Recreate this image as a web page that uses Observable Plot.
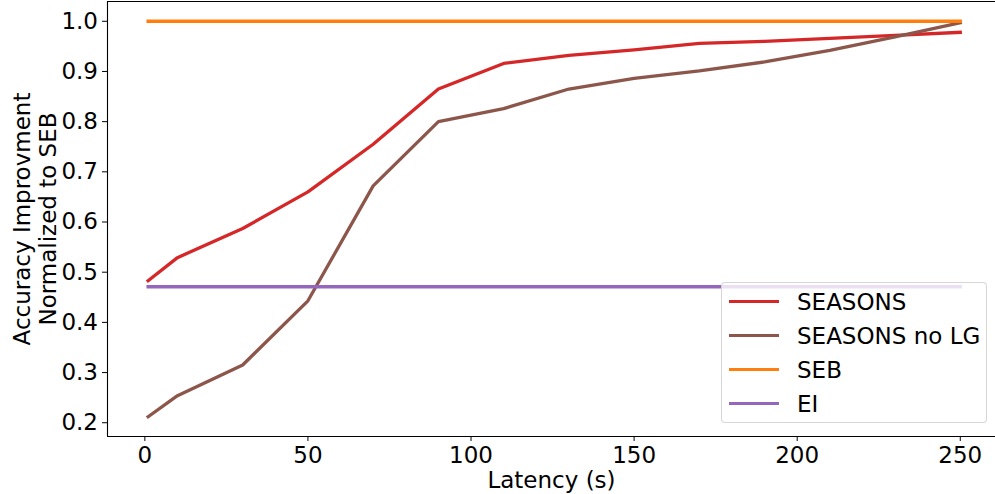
<!DOCTYPE html>
<html>
<head>
<meta charset="utf-8">
<script src="https://cdn.jsdelivr.net/npm/d3@7"></script>
<script src="https://cdn.jsdelivr.net/npm/@observablehq/plot@0.6"></script>
<style>
  html, body { margin: 0; padding: 0; background: #fff; }
  #wrap { position: relative; width: 995px; height: 494px; font-family: "DejaVu Sans", sans-serif; }
  #legend {
    position: absolute; left: 721px; top: 282px; width: 266px; height: 141px;
    background: rgba(255,255,255,0.8); border: 1px solid rgba(204,204,204,0.8); border-radius: 4px;
    box-sizing: border-box;
  }
  .row { position: absolute; left: 0; height: 34px; line-height: 34px; font-size: 23px; color: #000; white-space: nowrap; }
  .sw { position: absolute; left: 7px; top: 15.5px; width: 50px; height: 3.3px; }
  .lab { position: absolute; left: 75px; top: 0; }
</style>
</head>
<body>
<div id="wrap"></div>
<script>
// ---- data ----
const latency = [1, 10, 30, 50, 70, 90, 110, 130, 150, 170, 190, 210, 230, 250];
const seasons = [0.483, 0.529, 0.587, 0.660, 0.755, 0.865, 0.916, 0.932, 0.943, 0.956, 0.960, 0.966, 0.972, 0.978];
const seasonsNoLG = [0.212, 0.254, 0.315, 0.443, 0.672, 0.800, 0.826, 0.865, 0.886, 0.901, 0.919, 0.942, 0.969, 0.997];
const baselineLatency = [1, 250];
const seb = [1.0, 1.0];
const ei = [0.471, 0.471];

const seriesNames = ["SEASONS", "SEASONS no LG", "SEB", "EI"];
const seriesColors = ["#d62728", "#8c564b", "#ff7f0e", "#9467bd"];

const xTicks = [0, 50, 100, 150, 200, 250];
const yTicks = [0.2, 0.3, 0.4, 0.5, 0.6, 0.7, 0.8, 0.9, 1.0];
const xLabel = "Latency (s)";
const yLabel = "Accuracy Improvment\nNormalized to SEB";

// ---- tables ----
const toRows = (xs, ys) => xs.map((x, i) => ({x, y: ys[i]}));
const tables = [
  toRows(latency, seasons),
  toRows(latency, seasonsNoLG),
  toRows(baselineLatency, seb),
  toRows(baselineLatency, ei)
];

const xDomain = [-11.45, 260.8];
const yDomain = [0.1726, 1.0394];

const lineMarks = tables.map((t, i) => Plot.line(t, {
  x: "x", y: "y", stroke: seriesColors[i], strokeWidth: 3.3,
  strokeLinejoin: "round", strokeLinecap: "square"
}));

const chart = Plot.plot({
  width: 995,
  height: 494,
  marginLeft: 107,
  marginRight: 0,
  marginTop: 1,
  marginBottom: 58,
  style: {fontFamily: "DejaVu Sans, sans-serif", fontSize: "23px", color: "#000", background: "#fff", overflow: "visible"},
  x: {domain: xDomain, label: null},
  y: {domain: yDomain, label: null},
  marks: [
    ...lineMarks,
    // spines (left, top, bottom)
    Plot.ruleX([xDomain[0]], {stroke: "#000", strokeWidth: 1.1}),
    Plot.ruleY([yDomain[1]], {stroke: "#000", strokeWidth: 1.1}),
    Plot.ruleY([yDomain[0]], {stroke: "#000", strokeWidth: 1.1}),
    Plot.axisX({ticks: xTicks, tickSize: 5, tickPadding: 5, tickFormat: d3.format("d"), fontSize: 23, label: null}),
    Plot.axisY({ticks: yTicks, tickSize: 5, tickPadding: 4.5, tickFormat: d3.format(".1f"), fontSize: 23, label: null}),
    Plot.text([xLabel], {frameAnchor: "bottom", text: d => d, textAnchor: "middle", lineAnchor: "top", dy: 35, fontSize: 23, fill: "#000"}),
    Plot.text([yLabel], {frameAnchor: "left", text: d => d, rotate: -90, textAnchor: "middle", lineAnchor: "top", lineHeight: 1.12, dx: -95.5, fontSize: 23, fill: "#000"})
  ]
});

const wrap = document.getElementById("wrap");
wrap.appendChild(chart);

// legend
const legend = document.createElement("div");
legend.id = "legend";
seriesNames.forEach((name, i) => {
  const row = document.createElement("div");
  row.className = "row";
  row.style.top = (1.5 + i * 34) + "px";
  const sw = document.createElement("div");
  sw.className = "sw";
  sw.style.background = seriesColors[i];
  const lab = document.createElement("span");
  lab.className = "lab";
  lab.textContent = name;
  row.appendChild(sw);
  row.appendChild(lab);
  legend.appendChild(row);
});
wrap.appendChild(legend);
</script>
</body>
</html>
